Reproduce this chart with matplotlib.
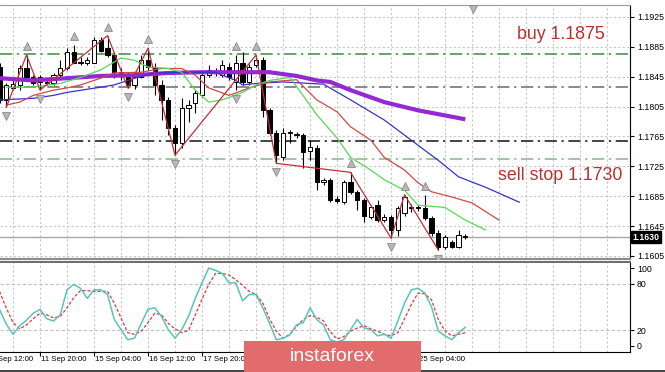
#!/usr/bin/env python3
# H4 candle chart with alligator lines, zigzag, fractals and stochastic panel
import matplotlib
matplotlib.use("Agg")
import matplotlib.pyplot as plt
import matplotlib.transforms as mtransforms
from matplotlib.patches import Rectangle
from matplotlib.lines import Line2D

plt.rcParams['font.family'] = ['Liberation Sans', 'DejaVu Sans']

# Data: OHLC of 70 bars
opens = [1.1858, 1.1814, 1.1830, 1.1834, 1.1856, 1.1844, 1.1838, 1.1837, 1.1836, 1.1847,
         1.1856, 1.1878, 1.1864, 1.1863, 1.1864, 1.1894, 1.1883, 1.1874, 1.1851, 1.1847,
         1.1834, 1.1844, 1.1867, 1.1858, 1.1834, 1.1814, 1.1776, 1.1756, 1.1803, 1.1810,
         1.1820, 1.1847, 1.1852, 1.1847, 1.1858, 1.1838, 1.1864, 1.1838, 1.1860, 1.1867,
         1.1800, 1.1770, 1.1737, 1.1770, 1.1767, 1.1767, 1.1745, 1.1749, 1.1704, 1.1707,
         1.1681, 1.1677, 1.1704, 1.1691, 1.1680, 1.1657, 1.1673, 1.1653, 1.1657, 1.1640,
         1.1663, 1.1669, 1.1669, 1.1669, 1.1656, 1.1636, 1.1617, 1.1624, 1.1617, 1.1632]
highs = [1.1863, 1.1836, 1.1840, 1.1860, 1.1874, 1.1847, 1.1847, 1.1840, 1.1850, 1.1867,
         1.1883, 1.1887, 1.1871, 1.1871, 1.1898, 1.1898, 1.1900, 1.1878, 1.1856, 1.1851,
         1.1847, 1.1874, 1.1883, 1.1863, 1.1840, 1.1818, 1.1780, 1.1816, 1.1814, 1.1827,
         1.1851, 1.1860, 1.1856, 1.1867, 1.1863, 1.1874, 1.1878, 1.1862, 1.1874, 1.1871,
         1.1803, 1.1774, 1.1776, 1.1774, 1.1771, 1.1770, 1.1760, 1.1754, 1.1709, 1.1709,
         1.1685, 1.1707, 1.1717, 1.1693, 1.1682, 1.1673, 1.1680, 1.1661, 1.1660, 1.1672,
         1.1687, 1.1675, 1.1673, 1.1687, 1.1659, 1.1640, 1.1633, 1.1626, 1.1640, 1.1634]
lows = [1.1810, 1.1804, 1.1827, 1.1827, 1.1840, 1.1834, 1.1827, 1.1834, 1.1834, 1.1844,
        1.1854, 1.1863, 1.1860, 1.1860, 1.1863, 1.1878, 1.1871, 1.1843, 1.1840, 1.1830,
        1.1828, 1.1843, 1.1854, 1.1820, 1.1787, 1.1767, 1.1740, 1.1749, 1.1784, 1.1796,
        1.1818, 1.1844, 1.1846, 1.1844, 1.1840, 1.1827, 1.1834, 1.1834, 1.1858, 1.1791,
        1.1767, 1.1729, 1.1733, 1.1756, 1.1763, 1.1723, 1.1733, 1.1693, 1.1700, 1.1677,
        1.1676, 1.1675, 1.1688, 1.1667, 1.1651, 1.1655, 1.1651, 1.1651, 1.1629, 1.1632,
        1.1659, 1.1664, 1.1665, 1.1653, 1.1632, 1.1613, 1.1614, 1.1616, 1.1616, 1.1628]
closes = [1.1814, 1.1834, 1.1835, 1.1856, 1.1844, 1.1836, 1.1844, 1.1838, 1.1847, 1.1856,
          1.1878, 1.1864, 1.1865, 1.1868, 1.1894, 1.1880, 1.1874, 1.1851, 1.1846, 1.1834,
          1.1844, 1.1867, 1.1858, 1.1834, 1.1814, 1.1776, 1.1756, 1.1803, 1.1807, 1.1823,
          1.1847, 1.1854, 1.1850, 1.1860, 1.1844, 1.1864, 1.1838, 1.1858, 1.1867, 1.1800,
          1.1770, 1.1740, 1.1770, 1.1771, 1.1768, 1.1744, 1.1751, 1.1704, 1.1707, 1.1680,
          1.1679, 1.1704, 1.1691, 1.1680, 1.1659, 1.1671, 1.1653, 1.1657, 1.1640, 1.1669,
          1.1684, 1.1671, 1.1670, 1.1656, 1.1636, 1.1617, 1.1630, 1.1617, 1.1633, 1.1630]

# Alligator lines (shifted forward), long MA
jaw_bars = [0, 5, 8, 10, 15, 17, 20, 23, 27, 32, 33, 35, 36, 38, 42, 46, 48, 52, 57, 61, 65, 68, 72, 77]
jaw_vals = [1.1814, 1.1816, 1.1820, 1.1824, 1.1831, 1.1834, 1.1843, 1.1850, 1.1851, 1.1851, 1.1847, 1.1840,
            1.1834, 1.1836, 1.1838, 1.1836, 1.1835, 1.1814, 1.1787, 1.1760, 1.1733, 1.1711, 1.1697, 1.1677]
teeth_bars = [1, 3, 5, 8, 10, 12, 15, 17, 21, 24, 27, 29, 31, 34, 37, 40, 44, 47, 50, 52, 55, 57, 60, 62, 64, 67, 70, 74]
teeth_vals = [1.1807, 1.1811, 1.1820, 1.1827, 1.1830, 1.1834, 1.1843, 1.1850, 1.1851, 1.1856, 1.1856, 1.1847,
              1.1830, 1.1820, 1.1830, 1.1838, 1.1841, 1.1814, 1.1798, 1.1778, 1.1760, 1.1737, 1.1720, 1.1703,
              1.1691, 1.1684, 1.1676, 1.1653]
lips_bars = [1, 5, 9, 12, 15, 18, 20, 22, 25, 27, 29, 31, 33, 36, 38, 40, 43, 44, 47, 50, 52, 55, 57, 60, 62, 66, 69, 72]
lips_vals = [1.1831, 1.1831, 1.1836, 1.1844, 1.1854, 1.1870, 1.1867, 1.1858, 1.1856, 1.1851, 1.1827, 1.1811,
             1.1814, 1.1824, 1.1834, 1.1840, 1.1844, 1.1832, 1.1794, 1.1763, 1.1737, 1.1720, 1.1707, 1.1693,
             1.1673, 1.1670, 1.1653, 1.1640]
ma_bars = [0, 5, 10, 15, 20, 25, 30, 40, 44, 47, 49, 52, 57, 62, 69]
ma_vals = [1.1843, 1.1840, 1.1843, 1.1846, 1.1847, 1.1850, 1.1851, 1.1851, 1.1846, 1.1840, 1.1838, 1.1827,
           1.1811, 1.1800, 1.1788]

# ZigZag and fractals
zz_bars = [1, 4, 6, 16, 19, 22, 26, 38, 41, 52, 58, 60, 65]
zz_vals = [1.1804, 1.1874, 1.1827, 1.1900, 1.1830, 1.1883, 1.1740, 1.1874, 1.1729, 1.1717, 1.1629, 1.1687, 1.1613]
frac_up = [4, 11, 16, 22, 35, 38, 52, 60, 63]
frac_dn = [1, 6, 19, 26, 35, 41, 58, 65]

# Stochastic
stoch_k = [47, 28, 15, 26, 33, 42, 47, 35, 32, 40, 72, 79, 74, 61, 72, 72, 66, 34, 21, 8,
           10, 29, 47, 49, 38, 21, 10, 21, 38, 61, 81, 100, 97, 93, 81, 81, 58, 66, 66, 49,
           29, 8, 10, 14, 27, 30, 49, 34, 27, 8, 5, 8, 21, 34, 23, 21, 13, 15, 10, 32,
           55, 72, 74, 68, 50, 19, 13, 8, 17, 24]
stoch_d = [70, 49, 30, 22, 27, 35, 42, 40, 36, 38, 49, 62, 71, 71, 70, 70, 70, 55, 36, 17,
           15, 19, 30, 42, 40, 29, 22, 17, 20, 40, 60, 79, 93, 93, 91, 85, 78, 70, 66, 55,
           35, 19, 10, 15, 25, 34, 39, 37, 32, 18, 9, 12, 19, 23, 26, 22, 19, 15, 13, 17,
           35, 53, 68, 67, 59, 34, 19, 13, 15, 17]

# Levels
levels = [1.1875, 1.1831, 1.1759, 1.1735]
level_colors = ['#3f8a3f', '#6a6a6a', '#111111', '#86b486']
last_price = 1.1630
price_ticks = [1.1605, 1.1645, 1.1685, 1.1725, 1.1765, 1.1805, 1.1845, 1.1885, 1.1925]
date_bars = [-2, 6, 14, 22, 30, 38, 46, 54, 62]
date_labels = ['10 Sep 12:00', '11 Sep 20:00', '15 Sep 04:00', '16 Sep 12:00', '17 Sep 20:00',
               '21 Sep 04:00', '22 Sep 12:00', '23 Sep 20:00', '25 Sep 04:00']

fig = plt.figure(figsize=(6.65, 3.72), dpi=100)
ax = fig.add_axes([0, 0.3038, 0.9474, 0.6828])
ax2 = fig.add_axes([0, 0.0538, 0.9474, 0.2419], sharex=ax)

xmin, xmax = 0.074, 93.4
grid_bars = list(range(2, 94, 4))
dotted = (0, (2, 2))

# main panel
for g in grid_bars:
    ax.axvline(g, color='#c8c8c8', lw=0.8, ls=dotted, zorder=0)
for t in price_ticks:
    ax.axhline(t, color='#c8c8c8', lw=0.8, ls=dotted, zorder=0)
for lv, c in zip(levels, level_colors):
    ax.axhline(lv, color=c, lw=1.1, ls=(0, (8, 3, 1.5, 3)), zorder=1)
ax.axhline(last_price, color='#a8a8a8', lw=1, zorder=1)

n = len(opens)
xs = list(range(n))
ax.vlines(xs, lows, highs, color='black', lw=0.8, zorder=2)
for i in range(n):
    o, c = opens[i], closes[i]
    bottom = min(o, c)
    h = max(abs(c - o), 0.00003)
    fc = 'white' if c >= o else 'black'
    ax.bar(i, h, bottom=bottom, width=0.62, color=fc, edgecolor='black', lw=0.7, zorder=3)

ax.plot(ma_bars, ma_vals, color='#9428d2', lw=3, zorder=4, solid_capstyle='butt')
ax.plot(jaw_bars, jaw_vals, color='#3434c8', lw=0.9, zorder=4)
ax.plot(teeth_bars, teeth_vals, color='#d04848', lw=0.9, zorder=4)
ax.plot(lips_bars, lips_vals, color='#58d858', lw=0.9, zorder=4)
ax.plot(zz_bars, zz_vals, color='#c0303a', lw=0.9, zorder=4)

ax.plot(frac_up, [highs[i] + 0.0012 for i in frac_up], ls='none', marker='^', ms=6,
        mfc='#b8b8b8', mec='#8a8a8a', mew=0.6, zorder=5)
ax.plot(frac_dn, [lows[i] - 0.0012 for i in frac_dn], ls='none', marker='v', ms=6,
        mfc='#b8b8b8', mec='#8a8a8a', mew=0.6, zorder=5)
ax.plot([70.2], [0.985], transform=mtransforms.blended_transform_factory(ax.transData, ax.transAxes),
        ls='none', marker='v', ms=6, mfc='#b8b8b8', mec='#8a8a8a', mew=0.6, clip_on=False, zorder=6)

ax.text(76.7, 1.1902, 'buy 1.1875', color='#b8322e', fontsize=12.8, va='center', ha='left', zorder=6)
ax.text(73.9, 1.1713, 'sell stop 1.1730', color='#b8322e', fontsize=12.8, va='center', ha='left', zorder=6)

ax.set_xlim(xmin, xmax)
ax.set_ylim(1.1601, 1.1941)
ax.yaxis.tick_right()
ax.set_yticks(price_ticks)
ax.set_yticklabels(['%.4f' % t for t in price_ticks])
ax.tick_params(axis='y', labelsize=6.3, length=3, pad=2, width=0.8)
ax.tick_params(axis='x', bottom=False, labelbottom=False)
ax.spines['left'].set_visible(False)
ax.spines['top'].set_color('#9a9a9a')
ax.spines['bottom'].set_color('#8c8c8c')
ax.spines['bottom'].set_linewidth(1.6)
ax.spines['right'].set_color('black')

blend = mtransforms.blended_transform_factory(ax.transAxes, ax.transData)
ax.text(1.004, last_price, '1.1630', transform=blend, color='white', fontsize=6.3, fontweight='bold',
        va='center', ha='left', bbox=dict(fc='black', ec='black', pad=1.2), zorder=7)

# stochastic panel
for g in grid_bars:
    ax2.axvline(g, color='#c8c8c8', lw=0.8, ls=dotted, zorder=0)
for lv in [20, 80]:
    ax2.axhline(lv, color='#c0c0c0', lw=0.8, ls=(0, (3, 2)), zorder=0)
ax2.plot(xs, stoch_k, color='#58c4bc', lw=1.1, zorder=3)
ax2.plot(xs, stoch_d, color='#e03a3a', lw=0.9, ls=(0, (2.5, 1.5)), zorder=2)
ax2.set_ylim(-7.7, 107.7)
ax2.yaxis.tick_right()
ax2.set_yticks([0, 20, 80, 100])
ax2.set_yticklabels(['0', '20', '80', '100'])
ax2.tick_params(axis='y', labelsize=6.3, length=3, pad=2, width=0.8)
ax2.set_xticks([b for b in date_bars if b > xmin])
ax2.set_xticklabels([])
ax2.tick_params(axis='x', length=3, width=0.8)
ax2.spines['left'].set_visible(False)
ax2.spines['top'].set_color('#6a6a6a')
ax2.spines['top'].set_linewidth(1.4)
ax2.set_xlim(xmin, xmax)

dblend = mtransforms.blended_transform_factory(ax2.transData, ax2.transAxes)
for b, lab in zip(date_bars, date_labels):
    ax2.text(b + 0.2, -0.04, lab, transform=dblend, fontsize=5.6, ha='left', va='top', clip_on=False)

# bottom frame line and watermark
fig.lines.append(Line2D([0, 1], [0.004, 0.004], transform=fig.transFigure, color='#222222', lw=1.2))
fig.patches.append(Rectangle((0.3669, 0.0), 0.2662, 0.0833, transform=fig.transFigure,
                             facecolor='#e26b6b', edgecolor='none', zorder=10))
fig.text(0.4992, 0.043, 'instaforex', color='white', fontsize=14, ha='center', va='center', zorder=11)

fig.savefig('out.png', dpi=100)
